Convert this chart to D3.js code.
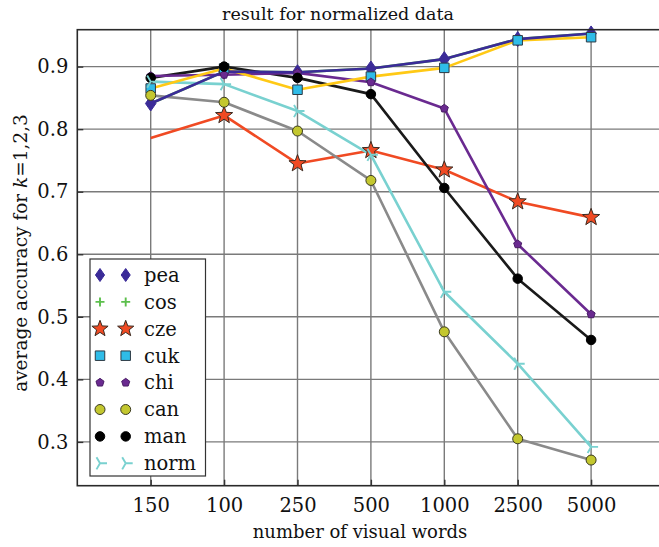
<!DOCTYPE html>
<html>
<head>
<meta charset="utf-8">
<script src="https://cdn.jsdelivr.net/npm/d3@7"></script>
<style>
  body { margin: 0; background: #fff; }
  svg { display: block; font-family: "DejaVu Serif", serif; }
</style>
</head>
<body>
<script>
// categories on the x axis (kept in the order shown)
const words = ["150", "100", "250", "500", "1000", "2500", "5000"];
const yTicks = [0.3, 0.4, 0.5, 0.6, 0.7, 0.8, 0.9];

// average accuracy per method
const pea  = [0.841, 0.892, 0.891, 0.897, 0.912, 0.944, 0.953];
const cos  = [0.841, 0.892, 0.891, 0.897, 0.912, 0.944, 0.953];
const cze  = [0.786, 0.822, 0.745, 0.766, 0.735, 0.684, 0.659];
const cuk  = [0.865, 0.897, 0.863, 0.884, 0.898, 0.942, 0.947];
const chi  = [0.885, 0.887, 0.890, 0.875, 0.833, 0.616, 0.504];
const can  = [0.854, 0.843, 0.797, 0.718, 0.476, 0.305, 0.271];
const man  = [0.882, 0.900, 0.882, 0.856, 0.706, 0.561, 0.463];
const norm = [0.876, 0.872, 0.829, 0.759, 0.540, 0.425, 0.292];

const series = [
  {name:"pea",  values:pea,  line:"#3b2b98", fill:"#3b2b98", stroke:"#3b2b98", shape:"diamond", size:15},
  {name:"cos",  values:cos,  line:"#5cbf4c", fill:"none",    stroke:"#5cbf4c", shape:"plus",    size:9},
  {name:"cze",  values:cze,  line:"#f04a23", fill:"#f04a23", stroke:"#3a2a20", shape:"star",    size:18, skip:[0]},
  {name:"cuk",  values:cuk,  line:"#ffc915", fill:"#2fbce8", stroke:"#2d3a44", shape:"square",  size:9.5},
  {name:"chi",  values:chi,  line:"#6a2a90", fill:"#6a2a90", stroke:"#4a1d66", shape:"pentagon",size:8.5},
  {name:"can",  values:can,  line:"#8a8a8a", fill:"#c3c72f", stroke:"#3a3a20", shape:"circle",  size:10},
  {name:"man",  values:man,  line:"#1a1a1a", fill:"#000",    stroke:"#000",    shape:"circle",  size:9.5},
  {name:"norm", values:norm, line:"#79d1d0", fill:"none",    stroke:"#79d1d0", shape:"tri",     size:14}
];
// which lines / markers go on top of which
const lineOrder = ["cos", "cze", "can", "norm", "man", "chi", "cuk", "pea"];
const markOrder = ["cos", "pea", "cze", "cuk", "chi", "can", "man", "norm"];

const width = 659, height = 547;
const margin = {top: 29.7, left: 77.3, bottom: 61.3};

const svg = d3.select("body").append("svg")
  .attr("width", width).attr("height", height);

const x = d3.scaleLinear().domain([0, words.length + 1])
  .range([margin.left, margin.left + 73.4 * (words.length + 1)]);
const y = d3.scaleLinear().domain([0.23, 0.959])
  .range([height - margin.bottom, margin.top]);

const plot = svg.append("g");

// grid
plot.append("g").selectAll("line").data(words).join("line")
  .attr("x1", (d, i) => x(i + 1)).attr("x2", (d, i) => x(i + 1))
  .attr("y1", y.range()[0]).attr("y2", y.range()[1])
  .attr("stroke", "#7a7a7a").attr("stroke-width", 1.4);
plot.append("g").selectAll("line").data(yTicks).join("line")
  .attr("x1", x.range()[0]).attr("x2", x.range()[1])
  .attr("y1", d => y(d)).attr("y2", d => y(d))
  .attr("stroke", "#7a7a7a").attr("stroke-width", 1.4);

// axes
const xAxis = d3.axisBottom(x).tickValues(d3.range(1, words.length + 1))
  .tickFormat(i => words[i - 1]).tickSize(-6).tickPadding(12);
const yAxis = d3.axisLeft(y).tickValues(yTicks)
  .tickFormat(d3.format(".1f")).tickSize(-6).tickPadding(9);

const styleAxis = g => {
  g.attr("font-family", "DejaVu Serif").attr("font-size", 19.5);
  g.select(".domain").remove();
  g.selectAll("text").attr("fill", "#111");
  g.selectAll("line").attr("stroke", "#333").attr("stroke-width", 1.4);
};
svg.append("g").attr("transform", `translate(0,${y.range()[0]})`).call(xAxis).call(styleAxis);
svg.append("g").attr("transform", `translate(${x.range()[0]},0)`).call(yAxis).call(styleAxis);

// frame
svg.append("rect")
  .attr("x", x.range()[0]).attr("y", y.range()[1])
  .attr("width", x.range()[1] - x.range()[0]).attr("height", y.range()[0] - y.range()[1])
  .attr("fill", "none").attr("stroke", "#2a2a2a").attr("stroke-width", 1.6);

// marker shapes
function markerPath(shape, s) {
  const r = s / 2;
  if (shape === "diamond") return `M0,${-r}L${r*0.7},0L0,${r}L${-r*0.7},0Z`;
  if (shape === "square") return `M${-r},${-r}H${r}V${r}H${-r}Z`;
  if (shape === "plus") return `M${-r},0H${r}M0,${-r}V${r}`;
  if (shape === "tri") {
    return `M0,0L${r},0M0,0L${-r*0.5},${-r*0.87}M0,0L${-r*0.5},${r*0.87}`;
  }
  if (shape === "star" || shape === "pentagon") {
    const pts = [];
    const n = shape === "star" ? 10 : 5;
    for (let k = 0; k < n; k++) {
      const a = -Math.PI / 2 + k * 2 * Math.PI / n;
      const rr = shape === "star" && k % 2 ? r * 0.42 : r;
      pts.push([rr * Math.cos(a), rr * Math.sin(a)]);
    }
    return "M" + pts.map(p => p.join(",")).join("L") + "Z";
  }
  return d3.symbol(d3.symbolCircle, Math.PI * r * r)();
}
function drawMarker(sel, s) {
  sel.append("path").attr("d", markerPath(s.shape, s.size))
    .attr("fill", s.fill)
    .attr("stroke", s.stroke)
    .attr("stroke-width", (s.shape === "plus" || s.shape === "tri") ? 1.9 : 1)
    .attr("stroke-linejoin", "miter");
}

// lines
const line = d3.line().x((d, i) => x(i + 1)).y(d => y(d));
const lines = plot.append("g");
lineOrder.forEach(n => {
  const s = series.find(d => d.name === n);
  lines.append("path").datum(s.values).attr("d", line)
    .attr("fill", "none").attr("stroke", s.line).attr("stroke-width", 2.6)
    .attr("stroke-linejoin", "round");
});

// markers
const marks = plot.append("g");
markOrder.forEach(n => {
  const s = series.find(d => d.name === n);
  s.values.forEach((v, i) => {
    if (s.skip && s.skip.includes(i)) return;
    const g = marks.append("g").attr("transform", `translate(${x(i + 1)},${y(v)})`);
    drawMarker(g, s);
  });
});

// legend
const lg = svg.append("g").attr("transform", "translate(90,259)");
lg.append("rect").attr("width", 115.5).attr("height", 217)
  .attr("fill", "#fff").attr("stroke", "#333").attr("stroke-width", 1.2);
series.forEach((s, i) => {
  const row = lg.append("g").attr("transform", `translate(0,${16 + i * 26.9})`);
  const ls = Object.assign({}, s, {size: s.shape === "diamond" ? 13 : s.shape === "star" ? 17 : s.size});
  drawMarker(row.append("g").attr("transform", "translate(10,0)"), ls);
  drawMarker(row.append("g").attr("transform", "translate(35.7,0)"), ls);
  row.append("text").attr("x", 54).attr("y", 0).attr("dy", "0.35em")
    .attr("font-size", 19.5).attr("fill", "#111").text(s.name);
});

// title and labels
svg.append("text").attr("x", 338).attr("y", 20).attr("text-anchor", "middle")
  .attr("font-size", 17.5).attr("fill", "#111").text("result for normalized data");
svg.append("text").attr("x", 360).attr("y", 538).attr("text-anchor", "middle")
  .attr("font-size", 18).attr("fill", "#111").text("number of visual words");
const yl = svg.append("text").attr("transform", "translate(27,253) rotate(-90)")
  .attr("text-anchor", "middle").attr("font-size", 18.5).attr("fill", "#111");
yl.append("tspan").text("average accuracy for ");
yl.append("tspan").attr("font-style", "italic").text("k");
yl.append("tspan").text("=1,2,3");
</script>
</body>
</html>
